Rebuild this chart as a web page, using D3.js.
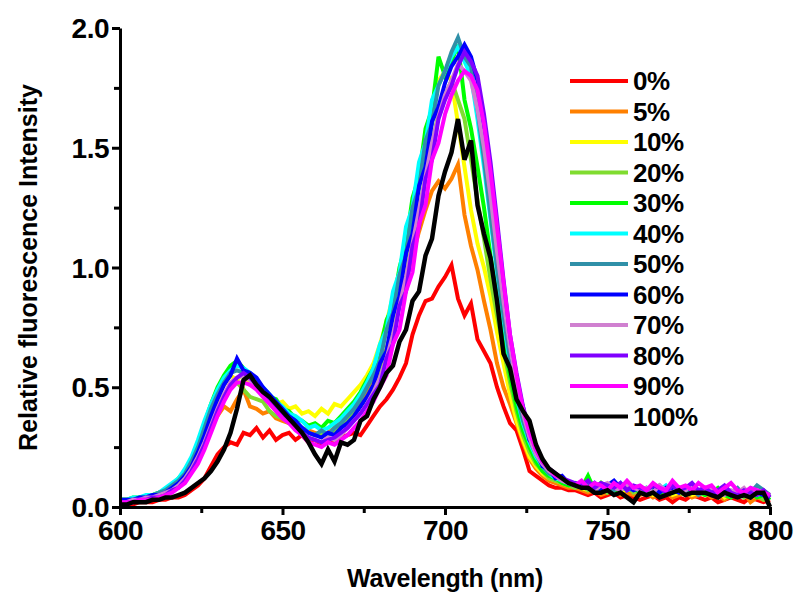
<!DOCTYPE html>
<html>
<head>
<meta charset="utf-8">
<script src="https://cdn.jsdelivr.net/npm/d3@7"></script>
<style>
  body { margin: 0; background: #fff; }
  svg text { font-family: "Liberation Sans", Arial, sans-serif; font-weight: bold; fill: #000; }
</style>
</head>
<body>
<svg id="chart" width="795" height="594"></svg>
<script>
// wavelength grid (nm), one point every 2 nm
const wavelengths = [
  600,602,604,606,608,610,612,614,616,618,
  620,622,624,626,628,630,632,634,636,638,
  640,642,644,646,648,650,652,654,656,658,
  660,662,664,666,668,670,672,674,676,678,
  680,682,684,686,688,690,692,694,696,698,
  700,702,704,706,708,710,712,714,716,718,
  720,722,724,726,728,730,732,734,736,738,
  740,742,744,746,748,750,752,754,756,758,
  760,762,764,766,768,770,772,774,776,778,
  780,782,784,786,788,790,792,794,796,798,
  800
];

const seriesNames = ["0%", "5%", "10%", "20%", "30%", "40%", "50%", "60%", "70%", "80%", "90%", "100%"];
const seriesColors = ["#ff0000", "#ff8000", "#ffff00", "#80dc30", "#00ff00", "#00ffff",
                      "#3090a8", "#0000ff", "#d080d0", "#8000ff", "#ff00ff", "#000000"];

const s0 = [
  0.01,0.01,0.01,0.02,0.02,0.02,0.03,0.03,0.04,0.04,
  0.05,0.07,0.09,0.12,0.17,0.22,0.25,0.27,0.26,0.31,
  0.30,0.33,0.29,0.32,0.28,0.30,0.31,0.28,0.30,0.27,
  0.28,0.26,0.29,0.27,0.29,0.30,0.31,0.30,0.34,0.38,
  0.42,0.45,0.49,0.54,0.60,0.72,0.80,0.86,0.87,0.92,
  0.96,1.01,0.87,0.80,0.85,0.70,0.65,0.60,0.50,0.42,
  0.35,0.32,0.24,0.15,0.13,0.11,0.09,0.08,0.08,0.07,
  0.07,0.06,0.05,0.06,0.04,0.05,0.06,0.04,0.05,0.04,
  0.03,0.04,0.05,0.03,0.04,0.02,0.04,0.03,0.05,0.04,
  0.03,0.04,0.02,0.03,0.04,0.03,0.02,0.04,0.03,0.02,
  0.03
];
const s5 = [
  0.02,0.02,0.03,0.03,0.03,0.04,0.05,0.06,0.08,0.10,
  0.13,0.17,0.22,0.28,0.34,0.38,0.42,0.40,0.45,0.49,
  0.42,0.41,0.39,0.40,0.37,0.36,0.35,0.34,0.33,0.32,
  0.31,0.30,0.31,0.33,0.35,0.37,0.40,0.43,0.47,0.52,
  0.58,0.66,0.75,0.85,0.95,1.05,1.15,1.24,1.32,1.36,
  1.33,1.37,1.43,1.22,1.09,0.99,0.86,0.74,0.60,0.50,
  0.43,0.35,0.27,0.20,0.16,0.13,0.11,0.10,0.09,0.08,
  0.08,0.07,0.06,0.07,0.05,0.06,0.07,0.05,0.06,0.05,
  0.05,0.06,0.04,0.05,0.06,0.04,0.05,0.06,0.04,0.05,
  0.06,0.04,0.05,0.03,0.05,0.04,0.06,0.02,0.04,0.03,
  0.03
];
const s10 = [
  0.03,0.03,0.03,0.04,0.04,0.05,0.06,0.07,0.09,0.11,
  0.14,0.19,0.25,0.32,0.40,0.46,0.51,0.55,0.53,0.56,
  0.51,0.50,0.46,0.45,0.43,0.44,0.41,0.42,0.39,0.40,
  0.38,0.41,0.39,0.43,0.42,0.45,0.48,0.51,0.55,0.60,
  0.68,0.77,0.88,0.98,1.10,1.22,1.35,1.48,1.62,1.78,
  1.82,1.78,1.60,1.42,1.24,1.10,1.00,0.88,0.73,0.60,
  0.47,0.36,0.28,0.21,0.17,0.14,0.12,0.11,0.10,0.09,
  0.09,0.08,0.07,0.09,0.06,0.08,0.07,0.06,0.08,0.07,
  0.06,0.07,0.05,0.06,0.08,0.05,0.06,0.07,0.05,0.06,
  0.05,0.06,0.07,0.04,0.06,0.05,0.06,0.04,0.05,0.06,
  0.04
];
const s20 = [
  0.03,0.03,0.03,0.03,0.04,0.04,0.05,0.06,0.08,0.10,
  0.13,0.17,0.23,0.29,0.36,0.42,0.47,0.50,0.52,0.49,
  0.46,0.45,0.44,0.40,0.38,0.37,0.35,0.34,0.32,0.31,
  0.30,0.31,0.30,0.32,0.34,0.36,0.39,0.42,0.46,0.51,
  0.57,0.65,0.75,0.86,0.98,1.10,1.24,1.38,1.52,1.64,
  1.72,1.78,1.70,1.62,1.45,1.28,1.12,0.95,0.80,0.66,
  0.52,0.40,0.30,0.23,0.18,0.15,0.12,0.11,0.10,0.09,
  0.08,0.09,0.07,0.08,0.10,0.06,0.08,0.07,0.09,0.06,
  0.07,0.05,0.06,0.08,0.05,0.07,0.06,0.05,0.07,0.06,
  0.05,0.07,0.04,0.06,0.05,0.07,0.04,0.06,0.05,0.03,
  0.04
];
const s30 = [
  0.03,0.03,0.04,0.04,0.04,0.05,0.06,0.07,0.09,0.12,
  0.15,0.20,0.27,0.35,0.43,0.50,0.55,0.59,0.61,0.58,
  0.55,0.52,0.49,0.46,0.45,0.41,0.40,0.37,0.36,0.34,
  0.35,0.33,0.36,0.35,0.38,0.41,0.44,0.48,0.53,0.58,
  0.66,0.78,0.84,1.00,1.10,1.29,1.38,1.58,1.66,1.88,
  1.80,1.86,1.93,1.70,1.58,1.42,1.25,1.05,0.88,0.70,
  0.55,0.42,0.32,0.25,0.19,0.15,0.13,0.12,0.10,0.09,
  0.10,0.08,0.13,0.07,0.10,0.08,0.06,0.09,0.07,0.08,
  0.06,0.08,0.07,0.05,0.08,0.06,0.07,0.05,0.06,0.07,
  0.05,0.06,0.08,0.05,0.04,0.06,0.05,0.07,0.04,0.05,
  0.03
];
const s40 = [
  0.03,0.03,0.04,0.04,0.05,0.05,0.06,0.08,0.10,0.12,
  0.16,0.21,0.28,0.36,0.43,0.49,0.54,0.57,0.59,0.58,
  0.56,0.52,0.50,0.47,0.44,0.42,0.39,0.38,0.36,0.33,
  0.34,0.32,0.33,0.35,0.37,0.40,0.43,0.47,0.52,0.58,
  0.68,0.74,0.90,0.98,1.17,1.25,1.44,1.52,1.70,1.76,
  1.82,1.88,1.92,1.86,1.80,1.62,1.42,1.20,0.98,0.78,
  0.60,0.46,0.35,0.27,0.21,0.17,0.14,0.12,0.11,0.10,
  0.09,0.10,0.08,0.09,0.07,0.09,0.08,0.10,0.07,0.08,
  0.07,0.08,0.06,0.07,0.09,0.06,0.07,0.08,0.06,0.07,
  0.06,0.07,0.05,0.08,0.06,0.05,0.07,0.06,0.05,0.06,
  0.05
];
const s50 = [
  0.03,0.03,0.03,0.04,0.04,0.05,0.06,0.07,0.09,0.11,
  0.14,0.19,0.25,0.33,0.41,0.47,0.52,0.56,0.57,0.56,
  0.54,0.51,0.48,0.45,0.42,0.39,0.37,0.35,0.33,0.31,
  0.30,0.32,0.30,0.33,0.35,0.38,0.41,0.45,0.50,0.55,
  0.61,0.74,0.81,0.97,1.05,1.25,1.33,1.53,1.60,1.76,
  1.82,1.90,1.96,1.88,1.84,1.66,1.45,1.22,1.00,0.80,
  0.62,0.47,0.36,0.28,0.22,0.17,0.14,0.13,0.11,0.10,
  0.09,0.08,0.10,0.07,0.09,0.08,0.07,0.09,0.08,0.07,
  0.08,0.06,0.07,0.09,0.06,0.07,0.08,0.06,0.07,0.05,
  0.07,0.06,0.05,0.07,0.06,0.08,0.05,0.06,0.09,0.07,
  0.05
];
const s60 = [
  0.03,0.03,0.03,0.04,0.04,0.05,0.05,0.06,0.08,0.10,
  0.13,0.17,0.23,0.30,0.38,0.45,0.51,0.55,0.62,0.57,
  0.56,0.54,0.50,0.47,0.44,0.41,0.38,0.36,0.33,0.31,
  0.30,0.29,0.31,0.30,0.33,0.35,0.38,0.42,0.46,0.51,
  0.60,0.65,0.80,0.88,1.06,1.14,1.34,1.42,1.61,1.67,
  1.77,1.84,1.88,1.93,1.88,1.78,1.58,1.34,1.10,0.88,
  0.68,0.50,0.42,0.28,0.25,0.17,0.16,0.12,0.13,0.10,
  0.10,0.09,0.08,0.10,0.07,0.09,0.11,0.08,0.09,0.07,
  0.08,0.07,0.09,0.06,0.08,0.07,0.06,0.08,0.07,0.06,
  0.07,0.05,0.06,0.08,0.05,0.07,0.06,0.04,0.06,0.05,
  0.04
];
const s70 = [
  0.02,0.02,0.03,0.03,0.04,0.04,0.05,0.06,0.07,0.09,
  0.12,0.16,0.21,0.27,0.34,0.41,0.47,0.52,0.54,0.55,
  0.53,0.50,0.48,0.45,0.42,0.39,0.36,0.34,0.31,0.29,
  0.28,0.27,0.29,0.28,0.30,0.33,0.36,0.39,0.43,0.48,
  0.54,0.62,0.72,0.84,0.96,1.10,1.24,1.38,1.52,1.63,
  1.72,1.78,1.85,1.82,1.78,1.66,1.50,1.30,1.07,0.86,
  0.67,0.51,0.39,0.29,0.22,0.18,0.15,0.13,0.11,0.10,
  0.09,0.10,0.08,0.07,0.09,0.10,0.08,0.07,0.09,0.08,
  0.07,0.08,0.06,0.09,0.07,0.06,0.08,0.07,0.09,0.06,
  0.07,0.08,0.06,0.05,0.07,0.06,0.08,0.05,0.07,0.06,
  0.05
];
const s80 = [
  0.02,0.02,0.02,0.03,0.03,0.04,0.04,0.05,0.07,0.08,
  0.11,0.15,0.20,0.26,0.33,0.40,0.46,0.51,0.54,0.56,
  0.54,0.51,0.48,0.45,0.42,0.39,0.36,0.34,0.31,0.29,
  0.28,0.27,0.28,0.29,0.31,0.33,0.36,0.39,0.43,0.47,
  0.51,0.62,0.68,0.84,0.90,1.09,1.17,1.37,1.45,1.62,
  1.70,1.76,1.84,1.90,1.86,1.80,1.64,1.44,1.20,0.95,
  0.72,0.56,0.42,0.32,0.24,0.19,0.16,0.14,0.12,0.11,
  0.10,0.09,0.11,0.08,0.10,0.09,0.08,0.10,0.07,0.09,
  0.08,0.07,0.09,0.08,0.06,0.09,0.07,0.08,0.10,0.07,
  0.08,0.06,0.07,0.09,0.06,0.05,0.07,0.06,0.05,0.07,
  0.04
];
const s90 = [
  0.02,0.02,0.02,0.03,0.03,0.03,0.04,0.05,0.06,0.08,
  0.10,0.14,0.18,0.24,0.31,0.38,0.44,0.49,0.52,0.52,
  0.51,0.49,0.46,0.43,0.40,0.37,0.35,0.32,0.30,0.27,
  0.26,0.25,0.27,0.26,0.28,0.30,0.33,0.36,0.40,0.44,
  0.50,0.55,0.68,0.74,0.90,0.98,1.18,1.26,1.45,1.52,
  1.64,1.72,1.78,1.82,1.80,1.74,1.60,1.40,1.17,0.94,
  0.72,0.55,0.41,0.31,0.24,0.19,0.16,0.13,0.12,0.10,
  0.09,0.11,0.08,0.10,0.09,0.07,0.10,0.08,0.11,0.08,
  0.09,0.07,0.10,0.08,0.07,0.11,0.08,0.09,0.07,0.10,
  0.08,0.09,0.06,0.08,0.10,0.07,0.06,0.08,0.07,0.06,
  0.05
];
const s100 = [
  0.01,0.01,0.02,0.02,0.02,0.03,0.03,0.04,0.04,0.05,
  0.06,0.08,0.10,0.12,0.15,0.19,0.24,0.31,0.41,0.53,
  0.55,0.51,0.48,0.46,0.43,0.40,0.37,0.34,0.31,0.27,
  0.22,0.18,0.24,0.19,0.27,0.26,0.28,0.36,0.38,0.45,
  0.50,0.56,0.59,0.69,0.74,0.86,0.90,1.05,1.12,1.30,
  1.40,1.48,1.62,1.45,1.53,1.26,1.14,1.04,0.86,0.64,
  0.58,0.45,0.40,0.36,0.26,0.20,0.16,0.14,0.12,0.10,
  0.09,0.08,0.08,0.06,0.06,0.07,0.05,0.06,0.04,0.02,
  0.06,0.05,0.06,0.04,0.05,0.06,0.07,0.05,0.06,0.06,
  0.06,0.05,0.04,0.06,0.05,0.04,0.05,0.04,0.06,0.06,
  0.00
];

const seriesValues = [s0, s5, s10, s20, s30, s40, s50, s60, s70, s80, s90, s100];

const xMajorTicks = [600, 650, 700, 750, 800];
const xMinorTicks = [625, 675, 725, 775];
const yMajorTicks = [0, 0.5, 1.0, 1.5, 2.0];
const yMinorTicks = [0.25, 0.75, 1.25, 1.75];

const margin = { left: 120, right: 25, top: 28, bottom: 87 };
const width = 795, height = 594;

const svg = d3.select("#chart");

const x = d3.scaleLinear().domain([600, 800]).range([margin.left, width - margin.right]);
const y = d3.scaleLinear().domain([0, 2]).range([height - margin.bottom, margin.top]);

// spectra, drawn 0% first so 100% ends up on top
const line = d3.line()
  .x((d, i) => x(wavelengths[i]))
  .y(d => y(d));

svg.append("g")
  .selectAll("path")
  .data(seriesValues)
  .join("path")
  .attr("d", line)
  .attr("fill", "none")
  .attr("stroke", (d, i) => seriesColors[i])
  .attr("stroke-width", (d, i) => i === 11 ? 4.5 : 4)
  .attr("stroke-linejoin", "miter");

// axes
function styleAxis(g) {
  g.select(".domain").attr("stroke-width", 3).attr("stroke", "#000");
  g.selectAll(".tick line").attr("stroke-width", 3).attr("stroke", "#000");
  g.selectAll(".tick text").style("font-size", "28px").style("letter-spacing", "-0.5px");
}

const xAxis = svg.append("g")
  .attr("transform", `translate(0,${y(0)})`)
  .call(d3.axisBottom(x).tickValues(xMajorTicks).tickSize(8).tickPadding(5).tickSizeOuter(0));
styleAxis(xAxis);
const xMinor = svg.append("g")
  .attr("transform", `translate(0,${y(0)})`)
  .call(d3.axisBottom(x).tickValues(xMinorTicks).tickSize(6).tickFormat("").tickSizeOuter(0));
styleAxis(xMinor);
xMinor.select(".domain").remove();

const yAxis = svg.append("g")
  .attr("transform", `translate(${x(600)},0)`)
  .call(d3.axisLeft(y).tickValues(yMajorTicks).tickFormat(d3.format(".1f")).tickSize(8).tickPadding(3).tickSizeOuter(0));
styleAxis(yAxis);
yAxis.selectAll(".tick text").attr("dy", "0.34em");
const yMinor = svg.append("g")
  .attr("transform", `translate(${x(600)},0)`)
  .call(d3.axisLeft(y).tickValues(yMinorTicks).tickSize(6).tickFormat("").tickSizeOuter(0));
styleAxis(yMinor);
yMinor.select(".domain").remove();

// axis titles
svg.append("text")
  .attr("x", (x(600) + x(800)) / 2)
  .attr("y", 587)
  .attr("text-anchor", "middle")
  .style("font-size", "25px")
  .style("letter-spacing", "-0.3px")
  .text("Wavelength (nm)");

svg.append("text")
  .attr("transform", `translate(37,${(y(0) + y(2)) / 2}) rotate(-90)`)
  .attr("text-anchor", "middle")
  .style("font-size", "25px")
  .text("Relative fluorescence Intensity");

// legend
const legend = svg.append("g").attr("transform", "translate(570,81)");
const rows = legend.selectAll("g")
  .data(seriesNames)
  .join("g")
  .attr("transform", (d, i) => `translate(0,${i * 30.5})`);
rows.append("line")
  .attr("x1", 0).attr("x2", 58)
  .attr("stroke", (d, i) => seriesColors[i])
  .attr("stroke-width", 4);
rows.append("text")
  .attr("x", 63)
  .attr("dy", "0.36em")
  .style("font-size", "26px")
  .style("letter-spacing", "-0.5px")
  .text(d => d);
</script>
</body>
</html>
